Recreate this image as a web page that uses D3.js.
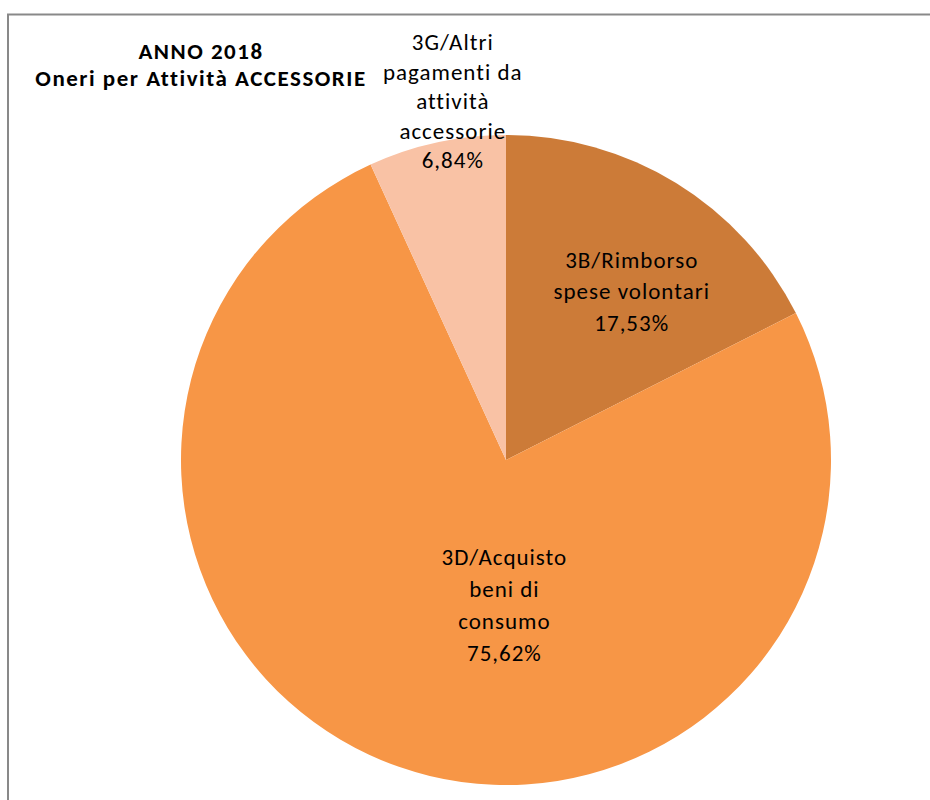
<!DOCTYPE html>
<html>
<head>
<meta charset="utf-8">
<script src="https://cdn.jsdelivr.net/npm/d3@7/dist/d3.min.js"></script>
<style>
  html, body { margin: 0; padding: 0; background: #fff; }
  svg { display: block; }
  text { font-family: Carlito, Calibri, Lato, "Open Sans", sans-serif; fill: #000; font-variant-ligatures: none; }
</style>
</head>
<body>
<script>
// ---- data ----
const categories = ["3B/Rimborso spese volontari", "3D/Acquisto beni di consumo", "3G/Altri pagamenti da attività accessorie"];
const labelLines = [
  ["3B/Rimborso", "spese volontari"],
  ["3D/Acquisto", "beni di", "consumo"],
  ["3G/Altri", "pagamenti da", "attività", "accessorie"]
];
const values = [17.53, 75.62, 6.84];
const percentLabels = ["17,53%", "75,62%", "6,84%"];
const colors = ["#CC7B38", "#F79646", "#F9C2A5"];
const titleLines = ["ANNO 2018", "Oneri per Attività ACCESSORIE"];

// ---- layout ----
const W = 930, H = 800;
const cx = 506, cy = 460, R = 325;
const fontSize = 23;
const letterSpacing = 1.0;
// label anchor: radius and angle offset (degrees) relative to slice mid-angle
const labelPlacement = [
  { r: 210, dAng: 5.05, lineH: 31.5 },
  { r: 145, dAng: -18.4, lineH: 32 },
  { r: 363, dAng: 3.8, lineH: 29.5 }
];

const svg = d3.select("body").append("svg")
  .attr("width", W).attr("height", H);

// chart frame
svg.append("rect")
  .attr("x", 8).attr("y", 14.5)
  .attr("width", W + 20).attr("height", H + 20)
  .attr("fill", "none").attr("stroke", "#898989").attr("stroke-width", 2);

const pie = d3.pie().sort(null).value(d => d)(values);
const arc = d3.arc().innerRadius(0).outerRadius(R);

const g = svg.append("g").attr("transform", `translate(${cx},${cy})`);
g.selectAll("path.slice").data(pie).join("path")
  .attr("class", "slice")
  .attr("d", arc)
  .attr("fill", (d, i) => colors[i]);

// labels
pie.forEach((d, i) => {
  const p = labelPlacement[i];
  const mid = (d.startAngle + d.endAngle) / 2 + p.dAng * Math.PI / 180;
  const x = Math.sin(mid) * p.r + letterSpacing / 2;
  const y = -Math.cos(mid) * p.r;
  const lines = labelLines[i].concat([percentLabels[i]]);
  const n = lines.length;
  const t = g.append("text")
    .attr("text-anchor", "middle")
    .attr("font-size", fontSize)
    .attr("letter-spacing", letterSpacing);
  lines.forEach((ln, k) => {
    t.append("tspan")
      .attr("x", x)
      .attr("y", y + (k - (n - 1) / 2) * p.lineH + fontSize * 0.35)
      .text(ln);
  });
});

// title
const title = svg.append("text")
  .attr("text-anchor", "middle")
  .attr("font-weight", "bold")
  .attr("font-size", 23)
  .attr("letter-spacing", 1.5);
titleLines.forEach((ln, k) => {
  title.append("tspan").attr("x", 201).attr("y", 59 + k * 27).text(ln);
});
</script>
</body>
</html>
